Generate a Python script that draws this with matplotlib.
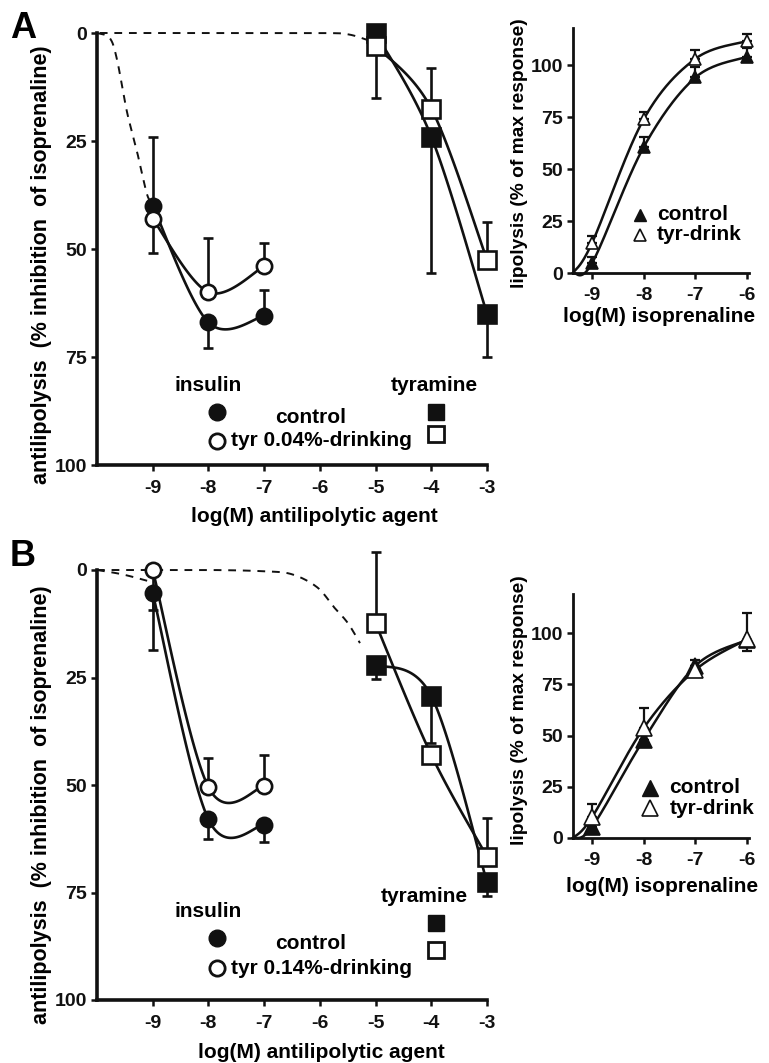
import numpy as np
import matplotlib
matplotlib.use("Agg")
import matplotlib.pyplot as plt

plt.rcParams["font.family"] = ["Liberation Sans", "DejaVu Sans"]
plt.rcParams["font.weight"] = "bold"
plt.rcParams["axes.unicode_minus"] = False

# ---- data: main panels (antilipolysis, % inhibition) ----
ins_dose = [-9, -8, -7]
tyra_dose = [-5, -4, -3]

# panel A
a_ins_ctrl = [40, 67, 65.5]
a_ins_ctrl_lo = [16, 0, 6]
a_ins_ctrl_hi = [0, 6, 0]
a_ins_tyr = [43, 60, 54]
a_ins_tyr_lo = [0, 12.5, 5.4]
a_ins_tyr_hi = [8, 0, 0]
a_tyra_ctrl = [0, 24, 65]
a_tyra_ctrl_lo = [0, 0, 0]
a_tyra_ctrl_hi = [0, 31.5, 10]
a_tyra_tyr = [3, 17.5, 52.5]
a_tyra_tyr_lo = [0, 9.5, 8.8]
a_tyra_tyr_hi = [12, 0, 0]

# panel B
b_ins_ctrl = [5.4, 58, 59.3]
b_ins_ctrl_lo = [0, 0, 0]
b_ins_ctrl_hi = [13.2, 4.6, 4]
b_ins_tyr = [0, 50.5, 50.3]
b_ins_tyr_lo = [0, 6.8, 7.3]
b_ins_tyr_hi = [9.3, 0, 0]
b_tyra_ctrl = [22, 29.3, 72.6]
b_tyra_ctrl_lo = [0, 0, 0]
b_tyra_ctrl_hi = [3.4, 11, 3.2]
b_tyra_tyr = [12.4, 43, 66.7]
b_tyra_tyr_lo = [16.6, 0, 9]
b_tyra_tyr_hi = [0, 0, 0]

# dashed guide curves (anchor points)
a_dash1_x = [-10, -9.77, -9.64, -9.47, -9.29, -9.11, -9.03]
a_dash1_y = [0, 1.2, 6.2, 17.8, 27, 37, 39]
a_dash2_x = [-9.95, -8, -6, -5.5, -5.15]
a_dash2_y = [0, 0, 0, 0.3, 1.6]
b_dash1_x = [-10, -9.55, -9.1]
b_dash1_y = [0, 1.0, 2.5]
b_dash2_x = [-10, -8, -7, -6.5, -6.05, -5.75, -5.5, -5.28]
b_dash2_y = [0, 0, 0.3, 1, 4, 8.6, 12.3, 17]

# ---- data: insets (lipolysis, % of max response) ----
iso_dose = [-9, -8, -7, -6]
iso_origin = -9.37
ia_ctrl = [4.8, 60.6, 94, 104]
ia_ctrl_hi = [3, 5, 5, 4]
ia_tyr = [14.5, 74, 103, 111.5]
ia_tyr_hi = [3.5, 3.5, 4, 3.5]
ib_ctrl = [5.4, 48, 84, 96.6]
ib_ctrl_hi = [2, 3, 3, 0]
ib_tyr = [10.2, 53.7, 82, 97]
ib_tyr_lo = [0, 0, 0, 6]
ib_tyr_hi = [6.4, 9.7, 2, 13]

W, H = 769, 1063
FS = 15     # label / legend text
TS = 14     # tick labels


def smooth(xs, ys, n=40):
    pts = np.column_stack([xs, ys]).astype(float)
    p = np.vstack([pts[0], pts, pts[-1]])
    t = np.linspace(0, 1, n)[:, None]
    out = []
    for i in range(1, len(p) - 2):
        p0, p1, p2, p3 = p[i - 1], p[i], p[i + 1], p[i + 2]
        seg = 0.5 * (2 * p1 + (-p0 + p2) * t + (2 * p0 - 5 * p1 + 4 * p2 - p3) * t ** 2
                     + (-p0 + 3 * p1 - 3 * p2 + p3) * t ** 3)
        out.append(seg)
    out = np.vstack(out)
    return out[:, 0], out[:, 1]


def series(ax, x, y, lo, hi, marker, filled, ms, lw=1.9):
    sx, sy = smooth(x, y)
    ax.plot(sx, sy, color="#111111", lw=lw, zorder=2, clip_on=False)
    ax.errorbar(x, y, yerr=[lo, hi], fmt="none", ecolor="#111111", elinewidth=1.9,
                capsize=3.5, capthick=1.9, zorder=2, clip_on=False)
    ax.plot(x, y, ls="none", marker=marker, ms=ms, mfc="#111111" if filled else "white",
            mec="#111111", mew=1.9, zorder=3, clip_on=False)


def style(ax, spine_w):
    for s in ["top", "right"]:
        ax.spines[s].set_visible(False)
    for s in ["left", "bottom"]:
        ax.spines[s].set_linewidth(spine_w)
        ax.spines[s].set_color("#111111")
    ax.tick_params(direction="out", length=4, width=1.8, labelsize=TS, colors="#111111")
    for lab in ax.get_xticklabels() + ax.get_yticklabels():
        lab.set_fontweight("bold")


def ax_px(left, top, right, bottom):
    return [left / W, 1 - bottom / H, (right - left) / W, (bottom - top) / H]


fig = plt.figure(figsize=(W / 100, H / 100), dpi=100)


def main_panel(top, bottom, d, legend_ys, tyra_ys, tyr_label):
    ax = fig.add_axes(ax_px(97, top, 487, bottom))
    ax.set_xlim(-10, -3)
    ax.set_ylim(100, 0)
    ax.set_xticks([-9, -8, -7, -6, -5, -4, -3])
    ax.set_yticks([0, 25, 50, 75, 100])
    style(ax, 2.6)
    ax.tick_params(axis="x", pad=7)
    ax.tick_params(axis="y", pad=3)
    for dx, dy in d["dash"]:
        sx, sy = smooth(dx, dy)
        ax.plot(sx, sy, color="#111111", lw=1.4, ls=(0, (4, 3.5)), zorder=1, clip_on=False)
    series(ax, ins_dose, *d["ins_ctrl"], "o", True, 11)
    series(ax, ins_dose, *d["ins_tyr"], "o", False, 11)
    series(ax, tyra_dose, *d["tyra_ctrl"], "s", True, 13)
    series(ax, tyra_dose, *d["tyra_tyr"], "s", False, 13)
    # legend block
    y_lab, y_c, y_t = legend_ys
    ax.text(-8.0, y_lab, "insulin", ha="center", va="center", fontsize=FS, fontweight="bold")
    ax.plot([-7.85], [y_c], "o", ms=12, color="#111111", clip_on=False)
    ax.text(-6.17, y_c + 1.3, "control", ha="center", va="center", fontsize=FS, fontweight="bold")
    ax.plot([-7.85], [y_t], "o", ms=11, mfc="white", mec="#111111", mew=2, clip_on=False)
    ax.text(-7.6, y_t, tyr_label, ha="left", va="center", fontsize=FS, fontweight="bold")
    ty_lab, ty_c, ty_t, ty_x = tyra_ys
    ax.text(ty_x, ty_lab, "tyramine", ha="center", va="center", fontsize=FS, fontweight="bold")
    ax.plot([-3.91], [ty_c], "s", ms=12, color="#111111", clip_on=False)
    ax.plot([-3.91], [ty_t], "s", ms=11, mfc="white", mec="#111111", mew=2, clip_on=False)
    return ax


def inset(top, bottom, ymax, d, ms, leg):
    ax = fig.add_axes(ax_px(573, top, 748.6, bottom))
    ax.set_xlim(iso_origin, -5.97)
    ax.set_ylim(0, ymax)
    ax.set_xticks(iso_dose)
    ax.set_yticks([0, 25, 50, 75, 100])
    style(ax, 2.0)
    ax.tick_params(axis="x", pad=6)
    ax.tick_params(axis="y", pad=3)
    for vals, lo, hi, filled in d:
        x = [iso_origin] + iso_dose
        y = [0] + vals
        sx, sy = smooth(x, y)
        ax.plot(sx, sy, color="#111111", lw=1.8, zorder=2, clip_on=False)
        ax.errorbar(iso_dose, vals, yerr=[lo, hi], fmt="none", ecolor="#111111",
                    elinewidth=1.6, capsize=3.5, capthick=1.6, zorder=2, clip_on=False)
        ax.plot(iso_dose, vals, ls="none", marker="^", ms=ms,
                mfc="#111111" if filled else "white", mec="#111111", mew=1.2,
                zorder=3, clip_on=False)
    mx, tx, y1, y2, lms = leg
    ax.plot([mx], [y1], "^", ms=lms, color="#111111", clip_on=False)
    ax.text(tx, y1, "control", ha="left", va="center", fontsize=FS, fontweight="bold")
    ax.plot([mx], [y2], "^", ms=lms, mfc="white", mec="#111111", mew=1.2, clip_on=False)
    ax.text(tx, y2, "tyr-drink", ha="left", va="center", fontsize=FS, fontweight="bold")
    return ax


dA = {
    "dash": [(a_dash1_x, a_dash1_y), (a_dash2_x, a_dash2_y)],
    "ins_ctrl": (a_ins_ctrl, a_ins_ctrl_lo, a_ins_ctrl_hi),
    "ins_tyr": (a_ins_tyr, a_ins_tyr_lo, a_ins_tyr_hi),
    "tyra_ctrl": (a_tyra_ctrl, a_tyra_ctrl_lo, a_tyra_ctrl_hi),
    "tyra_tyr": (a_tyra_tyr, a_tyra_tyr_lo, a_tyra_tyr_hi),
}
dB = {
    "dash": [(b_dash1_x, b_dash1_y), (b_dash2_x, b_dash2_y)],
    "ins_ctrl": (b_ins_ctrl, b_ins_ctrl_lo, b_ins_ctrl_hi),
    "ins_tyr": (b_ins_tyr, b_ins_tyr_lo, b_ins_tyr_hi),
    "tyra_ctrl": (b_tyra_ctrl, b_tyra_ctrl_lo, b_tyra_ctrl_hi),
    "tyra_tyr": (b_tyra_tyr, b_tyra_tyr_lo, b_tyra_tyr_hi),
}

main_panel(33, 465, dA, (81.5, 87.7, 94.4), (81.5, 87.7, 92.8, -3.95), "tyr 0.04%-drinking")
main_panel(570, 1000, dB, (79.5, 85.6, 92.6), (76.0, 82.0, 88.4, -4.13), "tyr 0.14%-drinking")

inset(273 - 118 * 2.08, 273, 118,
      [(ia_ctrl, [0] * 4, ia_ctrl_hi, True), (ia_tyr, [0] * 4, ia_tyr_hi, False)],
      8, (-8.07, -7.75, 27.9, 18.3, 8))
inset(838 - 119 * 2.05, 838, 119,
      [(ib_ctrl, [0] * 4, ib_ctrl_hi, True), (ib_tyr, ib_tyr_lo, ib_tyr_hi, False)],
      12, (-7.88, -7.5, 24.4, 14.6, 12))

# axis labels
ylab = "antilipolysis  (% inhibition  of isoprenaline)"
fig.text(42 / W, 1 - 265 / H, ylab, rotation=90, ha="center", va="center", fontsize=15.5, fontweight="bold")
fig.text(42 / W, 1 - 805 / H, ylab, rotation=90, ha="center", va="center", fontsize=15.5, fontweight="bold")
fig.text(314 / W, 1 - 517 / H, "log(M) antilipolytic agent", ha="center", va="center", fontsize=FS, fontweight="bold")
fig.text(321 / W, 1 - 1053 / H, "log(M) antilipolytic agent", ha="center", va="center", fontsize=FS, fontweight="bold")
ilab = "lipolysis (% of max response)"
fig.text(520 / W, 1 - 153 / H, ilab, rotation=90, ha="center", va="center", fontsize=13.8, fontweight="bold")
fig.text(520 / W, 1 - 710 / H, ilab, rotation=90, ha="center", va="center", fontsize=13.8, fontweight="bold")
fig.text(659 / W, 1 - 317 / H, "log(M) isoprenaline", ha="center", va="center", fontsize=FS, fontweight="bold")
fig.text(662 / W, 1 - 887 / H, "log(M) isoprenaline", ha="center", va="center", fontsize=FS, fontweight="bold")

fig.text(23 / W, 1 - 28 / H, "A", ha="center", va="center", fontsize=26, fontweight="bold")
fig.text(23 / W, 1 - 556 / H, "B", ha="center", va="center", fontsize=26, fontweight="bold")

fig.savefig("out.png", dpi=100)
